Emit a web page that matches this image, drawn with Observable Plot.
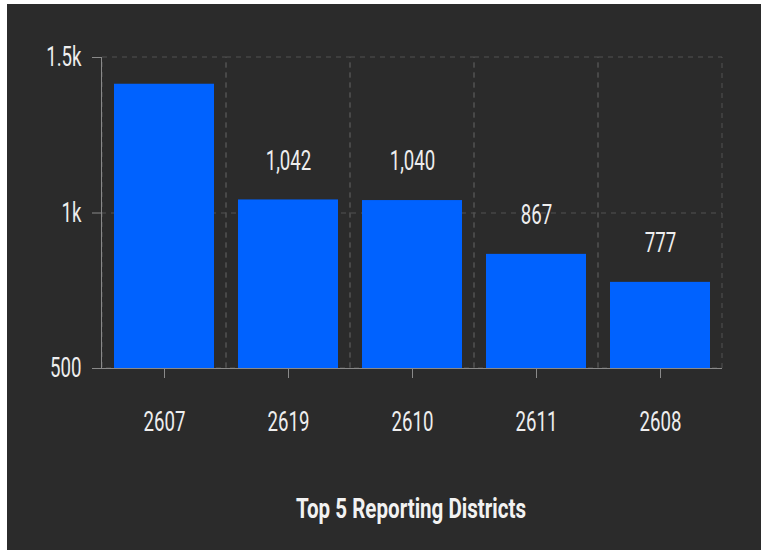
<!DOCTYPE html>
<html>
<head>
<meta charset="utf-8">
<script src="https://cdn.jsdelivr.net/npm/d3@7"></script>
<script src="https://cdn.jsdelivr.net/npm/@observablehq/plot@0.6"></script>
<style>
  html, body { margin: 0; padding: 0; background: #ffffff; }
  #wrap {
    position: absolute; left: 7px; top: 4px; width: 754px; height: 546px;
    background: #2b2b2b; overflow: hidden;
    font-family: Roboto, 'DejaVu Sans Condensed', sans-serif;
  }
  #chart { position: absolute; left: 0; top: 0; }
  #title {
    position: absolute; left: 404px; top: 488px;
    color: #f2f2f2; font-weight: bold; font-size: 28px; white-space: nowrap;
    transform-origin: 0 0;
  }
</style>
</head>
<body>
<div id="wrap">
  <div id="chart"></div>
  <div id="title">Top 5 Reporting Districts</div>
</div>
<script>
const districts = ["2607", "2619", "2610", "2611", "2608"];
const counts = [1414, 1042, 1040, 867, 777];
const yTicks = [500, 1000, 1500];
const yDomain = [500, 1500];

const data = districts.map((d, i) => ({district: d, count: counts[i]}));
const fmt = d3.format(",");
// labels that would not fit above the bar inside the plot area are hidden
const labelRoom = 150;

const chart = Plot.plot({
  width: 754,
  height: 460,
  marginLeft: 94,
  marginRight: 39,
  marginTop: 53,
  marginBottom: 96,
  style: {
    background: "transparent",
    color: "#eeeeee",
    fontSize: "27px",
    fontFamily: "Roboto, 'DejaVu Sans Condensed', sans-serif"
  },
  x: {domain: districts, padding: 0, label: null, tickSize: 10, tickPadding: 33},
  y: {domain: yDomain, ticks: yTicks, tickFormat: d3.format("~s"), label: null, tickSize: 9, tickPadding: 11},
  marks: [
    Plot.barY(data, {x: "district", y1: yDomain[0], y2: yDomain[1], fill: "none", stroke: "#535353", strokeDasharray: "5,5", strokeWidth: 1}),
    Plot.ruleY([1000], {stroke: "#535353", strokeDasharray: "5,5"}),
    Plot.barY(data, {x: "district", y: "count", fill: "#0062ff", insetLeft: 12, insetRight: 12, clip: true}),
    Plot.text(data, {x: "district", y: "count", text: d => fmt(d.count), filter: d => d.count + labelRoom <= yDomain[1], dy: -39, fill: "#eeeeee", fontSize: 27, clip: true}),
    Plot.frame({anchor: "left", stroke: "#8a8a8a"}),
    Plot.ruleY([yDomain[0]], {stroke: "#8a8a8a"})
  ]
});
chart.querySelectorAll("[aria-label='x-axis tick'], [aria-label='y-axis tick']").forEach(g => g.setAttribute("stroke", "#8a8a8a"));
document.getElementById("chart").appendChild(chart);

// condensed look: squeeze glyphs horizontally
const squeeze = 0.69;
chart.querySelectorAll("text").forEach(t => {
  const len = t.getComputedTextLength();
  if (len > 0) {
    t.setAttribute("lengthAdjust", "spacingAndGlyphs");
    t.setAttribute("textLength", (len * squeeze).toFixed(2));
  }
});
const title = document.getElementById("title");
const tw = title.getBoundingClientRect().width;
const tk = 230 / tw;
title.style.transform = `translateX(${-115}px) scaleX(${tk})`;
</script>
</body>
</html>
